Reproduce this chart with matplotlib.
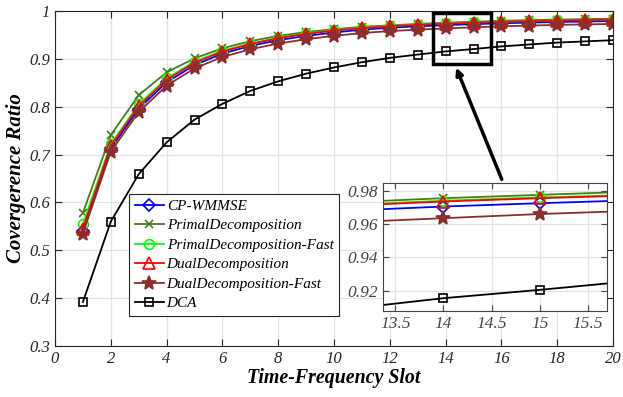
import numpy as np
import matplotlib
matplotlib.use('Agg')
import matplotlib.pyplot as plt

plt.rcParams['font.family'] = 'Liberation Serif'

slots = np.arange(1, 21)

cp_wmmse = [0.540, 0.713, 0.796, 0.851, 0.887, 0.911, 0.927, 0.939, 0.948, 0.955,
            0.961, 0.965, 0.968, 0.9705, 0.9725, 0.9743, 0.9758, 0.977, 0.978, 0.979]
primal = [0.578, 0.741, 0.824, 0.872, 0.901, 0.922, 0.937, 0.948, 0.956, 0.962,
          0.967, 0.970, 0.973, 0.9755, 0.9775, 0.9795, 0.981, 0.982, 0.983, 0.984]
primal_fast = [0.555, 0.722, 0.805, 0.859, 0.894, 0.917, 0.932, 0.944, 0.953, 0.960,
               0.965, 0.969, 0.9715, 0.974, 0.976, 0.9775, 0.979, 0.9803, 0.9813, 0.9823]
dual = [0.545, 0.718, 0.801, 0.856, 0.892, 0.915, 0.931, 0.943, 0.952, 0.959,
        0.964, 0.968, 0.971, 0.9735, 0.9755, 0.9772, 0.9787, 0.980, 0.981, 0.982]
dual_fast = [0.535, 0.706, 0.789, 0.844, 0.880, 0.904, 0.920, 0.932, 0.941, 0.948,
             0.954, 0.958, 0.961, 0.9635, 0.966, 0.968, 0.9695, 0.971, 0.972, 0.973]
dca = [0.392, 0.560, 0.659, 0.7255, 0.773, 0.806, 0.833, 0.853, 0.869, 0.882,
       0.893, 0.902, 0.909, 0.9155, 0.9205, 0.926, 0.930, 0.934, 0.9365, 0.939]

names = ['CP-WMMSE', 'PrimalDecomposition', 'PrimalDecomposition-Fast',
         'DualDecomposition', 'DualDecomposition-Fast', 'DCA']

series = [
    (cp_wmmse, '#0000ff', 'D', 'none', 6),
    (primal, '#4a7a1e', 'x', '#4a7a1e', 6),
    (primal_fast, '#00ff00', 'o', 'none', 7),
    (dual, '#ff0000', '^', 'none', 8),
    (dual_fast, '#8b2e2e', '*', '#8b2e2e', 10),
    (dca, '#000000', 's', 'none', 6),
]

fig = plt.figure(figsize=(6.23, 3.97), dpi=100)
ax = fig.add_axes([0.0883, 0.1285, 0.8957, 0.8438])


def draw(a):
    for (vals, col, mk, fc, ms), nm in zip(series, names):
        a.plot(slots, vals, color=col, marker=mk, markerfacecolor=fc,
               markeredgecolor=col, markersize=ms, linewidth=1.3,
               markeredgewidth=1.2, label=nm)


draw(ax)
ax.set_xlim(0, 20)
ax.set_ylim(0.3, 1)
ax.set_xticks(np.arange(0, 21, 2))
ax.set_yticks(np.arange(0.3, 1.01, 0.1))
ax.set_yticklabels(['0.3', '0.4', '0.5', '0.6', '0.7', '0.8', '0.9', '1'])
ax.grid(True, color='#e2e2e2', linewidth=0.9)
ax.set_axisbelow(True)
ax.tick_params(direction='in', top=True, right=True, labelsize=12,
               colors='#262626', length=5)
for lb in ax.get_xticklabels() + ax.get_yticklabels():
    lb.set_style('italic')
for sp in ax.spines.values():
    sp.set_color('#262626')
ax.set_xlabel('Time-Frequency Slot', fontsize=14.3, fontweight='bold',
              style='italic', labelpad=1)
ax.set_ylabel('Covergerence Ratio', fontsize=15, fontweight='bold',
              style='italic', labelpad=2)

leg = ax.legend(loc='upper left', bbox_to_anchor=(0.133, 0.454),
                prop={'style': 'italic', 'size': 11}, fancybox=False,
                edgecolor='#262626', framealpha=1, handlelength=1.9,
                handletextpad=0.2, borderpad=0.35, labelspacing=0.38,
                borderaxespad=0)
leg.get_frame().set_linewidth(0.8)

# zoom rectangle
ax.add_patch(plt.Rectangle((13.54, 0.889), 2.09, 0.106, fill=False,
                           edgecolor='black', linewidth=2.5, zorder=5))
ax.annotate('', xy=(14.34, 0.887), xytext=(16.05, 0.643),
            arrowprops=dict(arrowstyle='-|>', color='black', lw=2.5,
                            mutation_scale=10), zorder=5)

# inset
ins = fig.add_axes([0.6143, 0.2174, 0.3605, 0.3224])
draw(ins)
ins.set_xlim(13.37, 15.70)
ins.set_ylim(0.908, 0.9848)
ins.set_xticks([13.5, 14, 14.5, 15, 15.5])
ins.set_xticklabels(['13.5', '14', '14.5', '15', '15.5'])
ins.set_yticks([0.92, 0.94, 0.96, 0.98])
ins.grid(True, color='#e2e2e2', linewidth=0.9)
ins.set_axisbelow(True)
ins.tick_params(direction='in', top=True, right=True, labelsize=12.5,
                colors='#444444', length=4)
for lb in ins.get_xticklabels() + ins.get_yticklabels():
    lb.set_style('italic')
for sp in ins.spines.values():
    sp.set_color('#444444')

fig.savefig('out.png', dpi=100)
